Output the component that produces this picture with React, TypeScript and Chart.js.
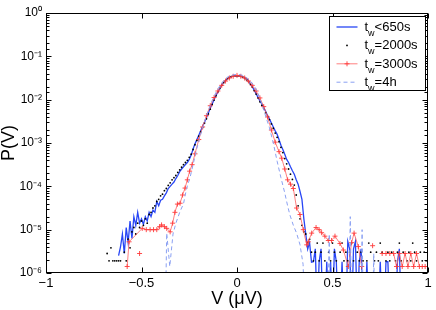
import React, { useEffect, useRef } from "react";
import { Chart, registerables } from "chart.js";

Chart.register(...registerables);

const FONT = "'Liberation Sans', Arial, Helvetica, sans-serif";

// ---- data (log10 of P(V)) ----
const BIN = 0.01;

// t_w < 650s : bins from V = -0.62, step 0.01 (-7 = empty bin, below the axis)
const blueStartV = -0.62;
const blueLogP = [
  -5.6, -5.4, -5.1, -5.55, -4.95, -5.3, -4.8, -5.2, -4.7, -4.9,
  -4.6, -4.85, -4.75, -4.88, -4.7, -4.8, -4.6, -4.7, -4.55, -4.6,
  -4.35, -4.45, -4.32, -4.3, -4.22, -4.15, -4.05, -4.0, -3.95, -3.9,
  -3.82, -3.75, -3.66, -3.6, -3.55, -3.5, -3.45, -3.38, -3.28, -3.14,
  -3.02, -2.92, -2.82, -2.72, -2.62, -2.52, -2.42, -2.31, -2.2, -2.1,
  -2.0, -1.9, -1.82, -1.74, -1.67, -1.61, -1.56, -1.52, -1.49, -1.47,
  -1.455, -1.45, -1.45, -1.45, -1.46, -1.475, -1.5, -1.53, -1.57, -1.63,
  -1.7, -1.78, -1.86, -1.95, -2.03, -2.1, -2.18, -2.27, -2.37, -2.45,
  -2.54, -2.63, -2.72, -2.8, -2.92, -3.05, -3.15, -3.26, -3.38, -3.45,
  -3.55, -3.64, -3.72, -3.85, -3.95, -4.12, -4.3, -4.75, -5.1, -5.45,
  -5.3, -5.75, -5.74, -5.44, -7, -5.74, -5.44, -7, -7, -5.74,
  -7, -5.74, -7, -5.44, -5.74, -7, -7, -5.74, -7, -7,
  -5.27, -5.44, -7, -5.44, -5.27, -7, -5.74, -5.44, -7, -7,
  -5.74, -7, -7, -7, -7, -7, -7, -5.74, -7, -7,
  -5.74, -5.74, -7, -7, -7, -7, -5.74, -5.44, -7, -7,
];

// t_w = 2000s : bins from V = -0.68, step 0.01 (null = empty bin)
const blackStartV = -0.68;
const blackLogP = [
  -5.55, -5.72, -5.42, -5.72, -5.72, -5.72, -5.72, -5.72, null, -5.52,
  -5.72, -5.22, -5.42, -5.05, -4.95, -5.1, -4.85, -4.95, -4.8, -4.9,
  -4.75, -4.85, -4.65, -4.6, -4.5, -4.45, -4.35, -4.3, -4.22, -4.18,
  -4.1, -4.05, -3.98, -3.92, -3.85, -3.8, -3.75, -3.68, -3.62, -3.56,
  -3.5, -3.45, -3.4, -3.33, -3.26, -3.15, -3.04, -2.94, -2.84, -2.74,
  -2.64, -2.54, -2.44, -2.33, -2.22, -2.11, -2.01, -1.91, -1.82, -1.74,
  -1.67, -1.61, -1.56, -1.52, -1.49, -1.47, -1.455, -1.45, -1.45, -1.45,
  -1.46, -1.48, -1.5, -1.54, -1.58, -1.64, -1.71, -1.79, -1.87, -1.96,
  -2.05, -2.13, -2.21, -2.3, -2.38, -2.46, -2.56, -2.66, -2.77, -2.87,
  -2.97, -3.1, -3.22, -3.36, -3.48, -3.6, -3.72, -3.84, -3.97, -4.2,
  -4.45, -4.75, -4.9, -5.05, -5.1, -5.3, -5.22, -5.52, -5.72, -5.52,
  -5.31, -5.72, -5.52, -5.31, -5.72, null, -5.52, -5.72, -5.31, -5.52,
  -5.72, null, -5.52, -5.31, -5.72, -5.52, -5.72, -5.52, -5.31, -5.72,
  null, -5.52, -5.72, -5.52, -5.72, null, -5.72, -5.31, -5.52, null,
  -5.72, -5.52, -5.72, -5.31, -5.52, null, -5.72, -5.52, -5.72, -5.52,
  null, -5.72, -5.52, -5.31, -5.72, -5.52, null, -5.72, -5.52, -5.72,
  -5.31, -5.52, -5.72, null, -5.52, -5.72, -5.52, -5.72, -5.52,
];

// t_w = 3000s : (V, log10 P) pairs, null = gap
const redV = [
  -0.51, -0.5,
  -0.575, -0.565, -0.496, -0.475, -0.455, -0.437, -0.42, -0.405, -0.395, -0.38,
  -0.368, -0.35, -0.337, -0.325, -0.312, -0.298, -0.285, -0.272, -0.26, -0.248,
  -0.235, -0.22, -0.2, -0.18, -0.16, -0.14, -0.12, -0.1, -0.08, -0.06,
  -0.04, -0.02, 0, 0.02, 0.04, 0.06, 0.08, 0.1, 0.12, 0.14,
  0.16, 0.18, 0.2, 0.22, 0.234, 0.25, 0.265, 0.28, 0.295, 0.312,
  0.33, 0.347, 0.365, 0.373, 0.391, 0.414, 0.43, 0.443, 0.46, 0.478,
  0.495, 0.513, 0.539, 0.557, 0.583, 0.6, 0.613, 0.635, 0.653, 0.68,
  0.71, 0.735, 0.76, 0.78, 0.8, 0.82, 0.835, 0.85, 0.865, 0.88,
  0.895, 0.91, 0.925, 0.94, 0.955, 0.97, 0.985, 1.0,
];
const redLogP = [
  -5.55, null,
  -5.85, -5.28, -4.97, -5.0, -5.0, -5.0, -5.0, -4.93, -4.89, -4.93,
  -4.97, -5.05, -4.85, -4.6, -4.41, -4.39, -4.2, -4.04, -3.85, -3.65,
  -3.5, -3.25, -2.92, -2.63, -2.37, -2.14, -1.95, -1.8, -1.67, -1.57,
  -1.5, -1.46, -1.44, -1.46, -1.5, -1.57, -1.67, -1.8, -1.96, -2.16,
  -2.4, -2.7, -2.98, -3.2, -3.35, -3.6, -3.85, -3.95, -4.05, -4.5,
  -4.65, -5.0, -5.35, -5.28, -5.08, -4.95, -5.0, -5.07, -5.15, -5.25,
  -5.25, -5.15, -5.32, -5.47, -5.85, -5.3, -5.08, -5.39, -5.85, null,
  -5.37, null, -5.55, -5.55, -5.55, -5.55, -5.85, -5.55, -5.85, -5.55,
  -5.85, -5.55, -5.85, -5.55, -5.85, -5.85, -5.85, -5.85,
];

// t_w = 4h : (V, log10 P) pairs (-7 = empty, below the axis)
const dashV = [
  -0.375, -0.368, -0.352, -0.335, -0.32, -0.3, -0.28, -0.264, -0.246, -0.23,
  -0.21, -0.19, -0.17, -0.15, -0.13, -0.11, -0.09, -0.07, -0.05, -0.03,
  -0.01, 0.01, 0.03, 0.05, 0.07, 0.09, 0.11, 0.13, 0.15, 0.17,
  0.19, 0.21, 0.23, 0.25, 0.265, 0.277, 0.295, 0.312, 0.33, 0.346,
  0.355, 0.475, 0.483, 0.49, 0.585, 0.593, 0.6, 0.648, 0.655, 0.662,
  0.71, 0.716, 0.722,
];
const dashLogP = [
  -7, -5.08, -5.85, -5.1, -4.85, -4.6, -4.4, -4.05, -3.8, -3.5,
  -3.12, -2.8, -2.5, -2.24, -2.02, -1.83, -1.68, -1.56, -1.48, -1.44,
  -1.42, -1.42, -1.44, -1.49, -1.57, -1.68, -1.85, -2.1, -2.38, -2.65,
  -3.0, -3.42, -3.8, -4.15, -4.45, -4.66, -4.9, -5.08, -5.35, -5.8,
  -7, -7, -5.1, -7, -7, -4.7, -7, -7, -5.0, -7,
  -7, -5.55, -7,
];

const seriesNames: [string, string, string][] = [
  ["t", "w", "<650s"],
  ["t", "w", "=2000s"],
  ["t", "w", "=3000s"],
  ["t", "w", "=4h"],
];
const xTitle = "V (\u03bcV)";
const yTitle = "P(V)";

// ---- helpers ----
const gridPoints = (start: number, logs: (number | null)[]) =>
  logs.map((lp, i) => ({
    x: Math.round((start + i * BIN) * 1000) / 1000,
    y: lp === null ? null : Math.pow(10, lp),
  }));
const pairPoints = (xs: number[], logs: (number | null)[]) =>
  xs.map((x, i) => ({ x, y: logs[i] === null ? null : Math.pow(10, logs[i] as number) }));

const SUP: Record<string, string> = {
  "0": "\u2070", "1": "\u00b9", "2": "\u00b2", "3": "\u00b3", "4": "\u2074",
  "5": "\u2075", "6": "\u2076", "7": "\u2077", "8": "\u2078", "9": "\u2079", "-": "\u207b",
};
const supNum = (n: number) => String(n).split("").map((c) => SUP[c] ?? c).join("");

const framePlugin = {
  id: "frame",
  afterDatasetsDraw(chart: any) {
    const { ctx, chartArea: a, scales } = chart;
    const L = Math.round(a.left) + 0.5;
    const R = Math.round(a.right) - 0.5;
    const T = Math.round(a.top) + 0.5;
    const B = Math.round(a.bottom) - 0.5;
    ctx.save();
    ctx.strokeStyle = "#000";
    ctx.lineWidth = 1;
    ctx.beginPath();
    scales.y.ticks.forEach((t: any) => {
      const e = Math.log10(t.value);
      const major = Math.abs(e - Math.round(e)) < 1e-6;
      const len = major ? 5 : 3;
      const y = Math.round(scales.y.getPixelForValue(t.value)) + 0.5;
      ctx.moveTo(L, y); ctx.lineTo(L + len, y);
      ctx.moveTo(R, y); ctx.lineTo(R - len, y);
    });
    scales.x.ticks.forEach((t: any) => {
      const x = Math.round(scales.x.getPixelForValue(t.value)) + 0.5;
      ctx.moveTo(x, B); ctx.lineTo(x, B - 5);
      ctx.moveTo(x, T); ctx.lineTo(x, T + 5);
    });
    ctx.stroke();
    ctx.strokeRect(L, T, R - L, B - T);
    ctx.restore();
  },
};

const legendPlugin = {
  id: "twLegend",
  afterDraw(chart: any) {
    const { ctx, chartArea: a } = chart;
    const bx = Math.round(a.right) - 99 + 0.5;
    const by = Math.round(a.top) + 3 + 0.5;
    const bw = 96;
    const bh = 74;
    ctx.save();
    ctx.fillStyle = "#fff";
    ctx.fillRect(bx, by, bw, bh);
    ctx.strokeStyle = "#000";
    ctx.lineWidth = 1;
    ctx.strokeRect(bx, by, bw, bh);
    chart.data.datasets.forEach((ds: any, i: number) => {
      const cy = by + 10.5 + i * 18.4;
      const x1 = bx + 7;
      const x2 = bx + 28;
      if (ds.showLine === false) {
        ctx.fillStyle = ds.pointBackgroundColor;
        ctx.beginPath();
        ctx.arc((x1 + x2) / 2, cy, ds.pointRadius, 0, Math.PI * 2);
        ctx.fill();
      } else {
        ctx.strokeStyle = ds.borderColor;
        ctx.lineWidth = ds.borderWidth;
        ctx.setLineDash(ds.borderDash || []);
        ctx.beginPath();
        ctx.moveTo(x1, cy);
        ctx.lineTo(x2, cy);
        ctx.stroke();
        ctx.setLineDash([]);
        if (ds.pointStyle === "cross") {
          const m = (x1 + x2) / 2;
          const r = ds.pointRadius;
          ctx.strokeStyle = ds.pointBorderColor;
          ctx.lineWidth = ds.pointBorderWidth;
          ctx.beginPath();
          ctx.moveTo(m - r, cy); ctx.lineTo(m + r, cy);
          ctx.moveTo(m, cy - r); ctx.lineTo(m, cy + r);
          ctx.stroke();
        }
      }
      const [base, sub, rest] = seriesNames[i];
      const baseline = cy + 4;
      let tx = bx + 35;
      ctx.fillStyle = "#000";
      ctx.textBaseline = "alphabetic";
      ctx.textAlign = "left";
      ctx.font = `13px ${FONT}`;
      ctx.fillText(base, tx, baseline);
      tx += ctx.measureText(base).width;
      ctx.font = `9px ${FONT}`;
      ctx.fillText(sub, tx, baseline + 5);
      tx += ctx.measureText(sub).width;
      ctx.font = `13px ${FONT}`;
      ctx.fillText(rest, tx, baseline);
    });
    ctx.restore();
  },
};

export default function App() {
  const canvasRef = useRef<HTMLCanvasElement | null>(null);

  useEffect(() => {
    if (!canvasRef.current) return;
    const chart = new Chart(canvasRef.current, {
      type: "line",
      data: {
        datasets: [
          {
            label: "tw<650s",
            data: gridPoints(blueStartV, blueLogP),
            borderColor: "#2846f5",
            borderWidth: 1.3,
            pointRadius: 0,
            tension: 0,
            order: 4,
          },
          {
            label: "tw=2000s",
            data: gridPoints(blackStartV, blackLogP),
            showLine: false,
            borderColor: "#000",
            pointBackgroundColor: "#000",
            pointBorderWidth: 0,
            pointRadius: 0.9,
            order: 3,
          },
          {
            label: "tw=3000s",
            data: pairPoints(redV, redLogP),
            borderColor: "#ff6060",
            borderWidth: 0.8,
            pointStyle: "cross",
            pointRadius: 2.5,
            pointBorderColor: "#ff3a3a",
            pointBorderWidth: 0.9,
            tension: 0,
            order: 2,
          },
          {
            label: "tw=4h",
            data: pairPoints(dashV, dashLogP),
            borderColor: "#8aa0f2",
            borderWidth: 1,
            borderDash: [4, 3],
            pointRadius: 0,
            tension: 0,
            order: 1,
          },
        ] as any,
      },
      options: {
        responsive: false,
        animation: false,
        events: [],
        layout: { padding: { top: 13, right: 8, left: 0, bottom: 0 } },
        plugins: { legend: { display: false }, tooltip: { enabled: false } },
        scales: {
          x: {
            type: "linear",
            min: -1,
            max: 1,
            ticks: {
              stepSize: 0.5,
              autoSkip: false,
              maxRotation: 0,
              padding: 3,
              color: "#000",
              font: { family: FONT, size: 13 },
              callback: (v: any) => (v < 0 ? "\u2212" + Math.abs(v) : String(v)),
            },
            grid: { display: false, drawTicks: false },
            border: { display: false },
            title: {
              display: true,
              text: xTitle,
              color: "#000",
              font: { family: FONT, size: 18 },
              padding: { top: 0, bottom: 0 },
            },
            afterFit: (s: any) => {
              s.height = 37;
            },
          },
          y: {
            type: "logarithmic",
            min: 1e-6,
            max: 1,
            ticks: {
              autoSkip: false,
              padding: 4,
              color: "#000",
              font: { family: FONT, size: 12 },
              callback: (v: any) => {
                const e = Math.log10(v);
                const r = Math.round(e);
                if (Math.abs(e - r) > 1e-6) return "";
                return "10" + supNum(r);
              },
            },
            grid: { display: false, drawTicks: false },
            border: { display: false },
            title: {
              display: true,
              text: yTitle,
              color: "#000",
              font: { family: FONT, size: 18, lineHeight: 1.0 },
              padding: { top: 0, bottom: 0 },
            },
            afterFit: (s: any) => {
              s.width = 46;
            },
          },
        },
      } as any,
      plugins: [framePlugin, legendPlugin],
    });
    return () => chart.destroy();
  }, []);

  return (
    <div style={{ position: "fixed", left: 0, top: 0, width: 436, height: 310, background: "#fff" }}>
      <canvas ref={canvasRef} width={436} height={310} style={{ display: "block" }} />
    </div>
  );
}
